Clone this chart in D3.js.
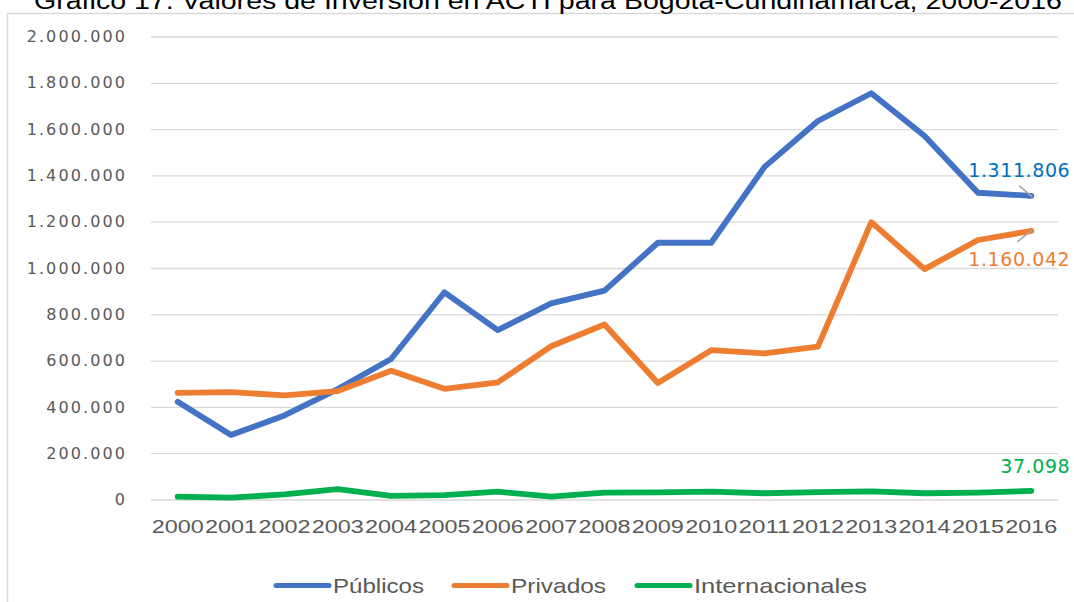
<!DOCTYPE html>
<html>
<head>
<meta charset="utf-8">
<script src="https://cdn.jsdelivr.net/npm/d3@7"></script>
<style>
  body { margin: 0; background: #fff; }
</style>
</head>
<body>
<div id="chart"></div>
<script>
// data
var years = ["2000","2001","2002","2003","2004","2005","2006","2007","2008",
             "2009","2010","2011","2012","2013","2014","2015","2016"];
var publicos = [422000, 279000, 363000, 477000, 607000, 895000, 732000, 847000, 902000,
                1109000, 1109000, 1437000, 1635000, 1755000, 1570000, 1325000, 1311806];
var privados = [461000, 464000, 450000, 468000, 556000, 478000, 506000, 662000, 756000,
                503000, 645000, 631000, 660000, 1198000, 995000, 1121000, 1160042];
var internacionales = [12000, 8000, 22000, 45000, 16000, 19000, 34000, 12000, 30000,
                       31000, 34000, 27000, 32000, 35000, 27000, 30000, 37098];
var seriesNames = ["Públicos", "Privados", "Internacionales"];
var yTicks = [0, 200000, 400000, 600000, 800000, 1000000, 1200000, 1400000, 1600000, 1800000, 2000000];
var title = "Gráfico 17. Valores de Inversión en ACTI para Bogotá-Cundinamarca, 2000-2016";

var colors = ["#4472C4", "#ED7D31", "#00B050"];
var labelColors = ["#0070C0", "#ED7D31", "#00B050"];

var W = 1074, H = 602;
var plot = {left: 151, right: 1058, top: 36.5, bottom: 499.5};

var svg = d3.select("#chart")
  .append("svg")
    .attr("width", W)
    .attr("height", H);

// outer border (chart area)
svg.append("path")
  .attr("d", "M7.5," + H + "V13.5H" + W)
  .attr("fill", "none")
  .attr("stroke", "#d9d9d9")
  .attr("stroke-width", 1.5);

// title, partly cut at the top (as in the source)
svg.append("text")
  .attr("x", 34)
  .attr("y", 9)
  .attr("textLength", 1028)
  .attr("lengthAdjust", "spacingAndGlyphs")
  .style("font-family", "Liberation Sans, Arial, sans-serif")
  .style("font-size", "23px")
  .style("fill", "#000")
  .text(title);

var x = d3.scaleBand()
  .domain(years)
  .range([plot.left, plot.right]);

var y = d3.scaleLinear()
  .domain([0, 2000000])
  .range([plot.bottom, plot.top]);

var locale = d3.formatLocale({decimal: ",", thousands: ".", grouping: [3], currency: ["$", ""]});
var fmt = locale.format(",d");

// Y axis with gridlines
var yAxis = svg.append("g")
  .attr("transform", "translate(" + plot.left + ",0)")
  .call(d3.axisLeft(y)
    .tickValues(yTicks)
    .tickSize(-(plot.right - plot.left))
    .tickPadding(24)
    .tickFormat(fmt));
yAxis.select(".domain").remove();
yAxis.selectAll(".tick line")
  .attr("stroke", "#d9d9d9")
  .attr("stroke-width", 1.3);
yAxis.selectAll(".tick text")
  .style("font-family", "DejaVu Sans, Verdana, sans-serif")
  .style("font-size", "16px")
  .style("letter-spacing", "2.1px")
  .style("fill", "#595959");

// X axis labels
var xAxis = svg.append("g")
  .attr("transform", "translate(0," + plot.bottom + ")")
  .call(d3.axisBottom(x).tickSize(0).tickPadding(0));
xAxis.select(".domain").remove();
xAxis.selectAll(".tick text")
  .attr("y", 33)
  .attr("dy", null)
  .attr("textLength", 52)
  .attr("lengthAdjust", "spacingAndGlyphs")
  .style("font-family", "Liberation Sans Narrow, Liberation Sans, sans-serif")
  .style("font-size", "18px")
  .style("fill", "#595959");

// lines
var allSeries = [publicos, privados, internacionales];
var line = d3.line()
  .x(function(d, i) { return x(years[i]) + x.bandwidth() / 2; })
  .y(function(d) { return y(d); });

svg.append("g")
  .selectAll("path")
  .data(allSeries)
  .enter()
  .append("path")
    .attr("d", line)
    .attr("fill", "none")
    .attr("stroke", function(d, i) { return colors[i]; })
    .attr("stroke-width", 5.8)
    .attr("stroke-linejoin", "round")
    .attr("stroke-linecap", "round");

// data labels on the last point
var lastX = x(years[years.length - 1]) + x.bandwidth() / 2;
var labelOffsets = [-19, 35, -18];
allSeries.forEach(function(s, i) {
  var v = s[s.length - 1];
  svg.append("text")
    .attr("x", lastX + 39)
    .attr("y", y(v) + labelOffsets[i])
    .attr("text-anchor", "end")
    .style("font-family", "DejaVu Sans, Verdana, sans-serif")
    .style("font-size", "19px")
    .style("letter-spacing", "0.6px")
    .style("fill", labelColors[i])
    .text(fmt(v));
});

// leader lines for the two upper labels
svg.append("line")
  .attr("x1", lastX - 12).attr("y1", y(publicos[16]) - 10)
  .attr("x2", lastX + 1).attr("y2", y(publicos[16]) + 1)
  .attr("stroke", "#a6a6a6").attr("stroke-width", 1.5);
svg.append("line")
  .attr("x1", lastX - 14).attr("y1", y(privados[16]) + 11)
  .attr("x2", lastX + 1).attr("y2", y(privados[16]) - 1)
  .attr("stroke", "#a6a6a6").attr("stroke-width", 1.5);

// legend
var legendX = [276, 454, 637];
var legendLen = [91, 95, 173];
var legend = svg.append("g")
  .selectAll("g")
  .data(seriesNames)
  .enter()
  .append("g")
    .attr("transform", function(d, i) { return "translate(" + legendX[i] + ",585.5)"; });
legend.append("line")
  .attr("x1", 0).attr("x2", 53)
  .attr("stroke", function(d, i) { return colors[i]; })
  .attr("stroke-width", 5)
  .attr("stroke-linecap", "round");
legend.append("text")
  .attr("x", 57)
  .attr("y", 7)
  .attr("textLength", function(d, i) { return legendLen[i]; })
  .attr("lengthAdjust", "spacingAndGlyphs")
  .style("font-family", "Liberation Sans Narrow, Liberation Sans, sans-serif")
  .style("font-size", "21px")
  .style("fill", "#595959")
  .text(function(d) { return d; });
</script>
</body>
</html>
